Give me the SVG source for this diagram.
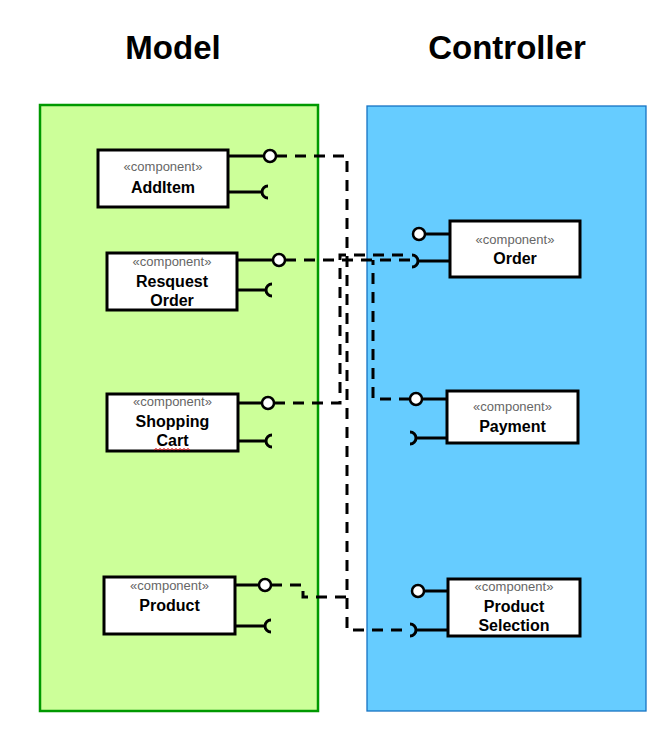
<svg xmlns="http://www.w3.org/2000/svg" width="670" height="733" viewBox="0 0 670 733">
  <style>
    .title { font-family: "Liberation Sans", Arial, sans-serif; font-size: 33px; font-weight: bold; fill: #000; text-anchor: middle; }
    .stereo { font-family: "Liberation Sans", Arial, sans-serif; font-size: 13px; fill: #666; text-anchor: middle; }
    .name { font-family: "Liberation Sans", Arial, sans-serif; font-size: 16px; font-weight: bold; fill: #000; text-anchor: middle; }
    .box { fill: #fff; stroke: #000; stroke-width: 3; }
    .port { fill: none; stroke: #000; stroke-width: 3; }
    .ball { fill: #fff; stroke: #000; stroke-width: 2.5; }
    .dep { fill: none; stroke: #000; stroke-width: 3; stroke-dasharray: 11 8; }
  </style>

  <!-- package panels -->
  <g id="model-panel">
    <rect x="40" y="105" width="278" height="606" fill="#CCFF99" stroke="#009900" stroke-width="2.5"/>
    <text class="title" x="173" y="59">Model</text>
  </g>
  <g id="controller-panel">
    <rect x="367" y="106" width="279" height="605" fill="#66CCFF" stroke="#1673C4" stroke-width="1.3"/>
    <text class="title" x="507" y="59">Controller</text>
  </g>

  <!-- dependency connectors -->
  <g id="connectors">
    <path class="dep" d="M276,156 H347 V630 H410"/>
    <path class="dep" d="M285,260 H411"/>
    <path class="dep" d="M274,403 H340 V255 H411"/>
    <path class="dep" d="M410,399 H373 V260"/>
    <path class="dep" d="M271,585 H303 V597 H347"/>
  </g>

  <!-- Model components -->
  <g id="additem">
    <path class="port" d="M228,156 H264 M228,192 H262 M268,186 A6,6 0 0 0 268,198"/>
    <circle class="ball" cx="270" cy="156" r="6"/>
    <rect class="box" x="98" y="150" width="130" height="57"/>
    <text class="stereo" x="163" y="171">«component»</text>
    <text class="name" x="163" y="193">AddItem</text>
  </g>

  <g id="request-order">
    <path class="port" d="M237,260 H273 M237,290 H266 M272,284 A6,6 0 0 0 272,296"/>
    <circle class="ball" cx="279" cy="260" r="6"/>
    <rect class="box" x="107" y="253" width="130" height="57"/>
    <text class="stereo" x="172" y="266">«component»</text>
    <text class="name" x="172" y="287">Resquest</text>
    <text class="name" x="172" y="306">Order</text>
  </g>

  <g id="shopping-cart">
    <path class="port" d="M238,403 H262 M238,441 H266 M272,435 A6,6 0 0 0 272,447"/>
    <circle class="ball" cx="268" cy="403" r="6"/>
    <rect class="box" x="107" y="394" width="131" height="57"/>
    <text class="stereo" x="172.5" y="406">«component»</text>
    <text class="name" x="172.5" y="427">Shopping</text>
    <text class="name" x="172.5" y="446">Cart</text>
    <path d="M154,450 l2,-1.5 l2,1.5 l2,-1.5 l2,1.5 l2,-1.5 l2,1.5 l2,-1.5 l2,1.5 l2,-1.5 l2,1.5 l2,-1.5 l2,1.5 l2,-1.5 l2,1.5 l2,-1.5 l2,1.5 l2,-1.5 l2,1.5" fill="none" stroke="#E02020" stroke-width="1"/>
  </g>

  <g id="product">
    <path class="port" d="M235,585 H259 M235,626 H265 M271,620 A6,6 0 0 0 271,632"/>
    <circle class="ball" cx="265" cy="585" r="6"/>
    <rect class="box" x="104" y="577" width="131" height="57"/>
    <text class="stereo" x="169.5" y="590">«component»</text>
    <text class="name" x="169.5" y="611">Product</text>
  </g>

  <!-- Controller components -->
  <g id="order">
    <path class="port" d="M425,234 H450 M418,261 H450 M412,255 A6,6 0 0 1 412,267"/>
    <circle class="ball" cx="419" cy="234" r="6"/>
    <rect class="box" x="450" y="221" width="130" height="56"/>
    <text class="stereo" x="515" y="244">«component»</text>
    <text class="name" x="515" y="264">Order</text>
  </g>

  <g id="payment">
    <path class="port" d="M422,399 H447 M416,438 H447 M410,432 A6,6 0 0 1 410,444"/>
    <circle class="ball" cx="416" cy="399" r="6"/>
    <rect class="box" x="447" y="391" width="131" height="52"/>
    <text class="stereo" x="512.5" y="411">«component»</text>
    <text class="name" x="512.5" y="432">Payment</text>
  </g>

  <g id="product-selection">
    <path class="port" d="M424,591 H448 M416,630 H448 M410,624 A6,6 0 0 1 410,636"/>
    <circle class="ball" cx="418" cy="591" r="6"/>
    <rect class="box" x="448" y="579" width="132" height="57"/>
    <text class="stereo" x="514" y="591">«component»</text>
    <text class="name" x="514" y="612">Product</text>
    <text class="name" x="514" y="631">Selection</text>
  </g>
</svg>
